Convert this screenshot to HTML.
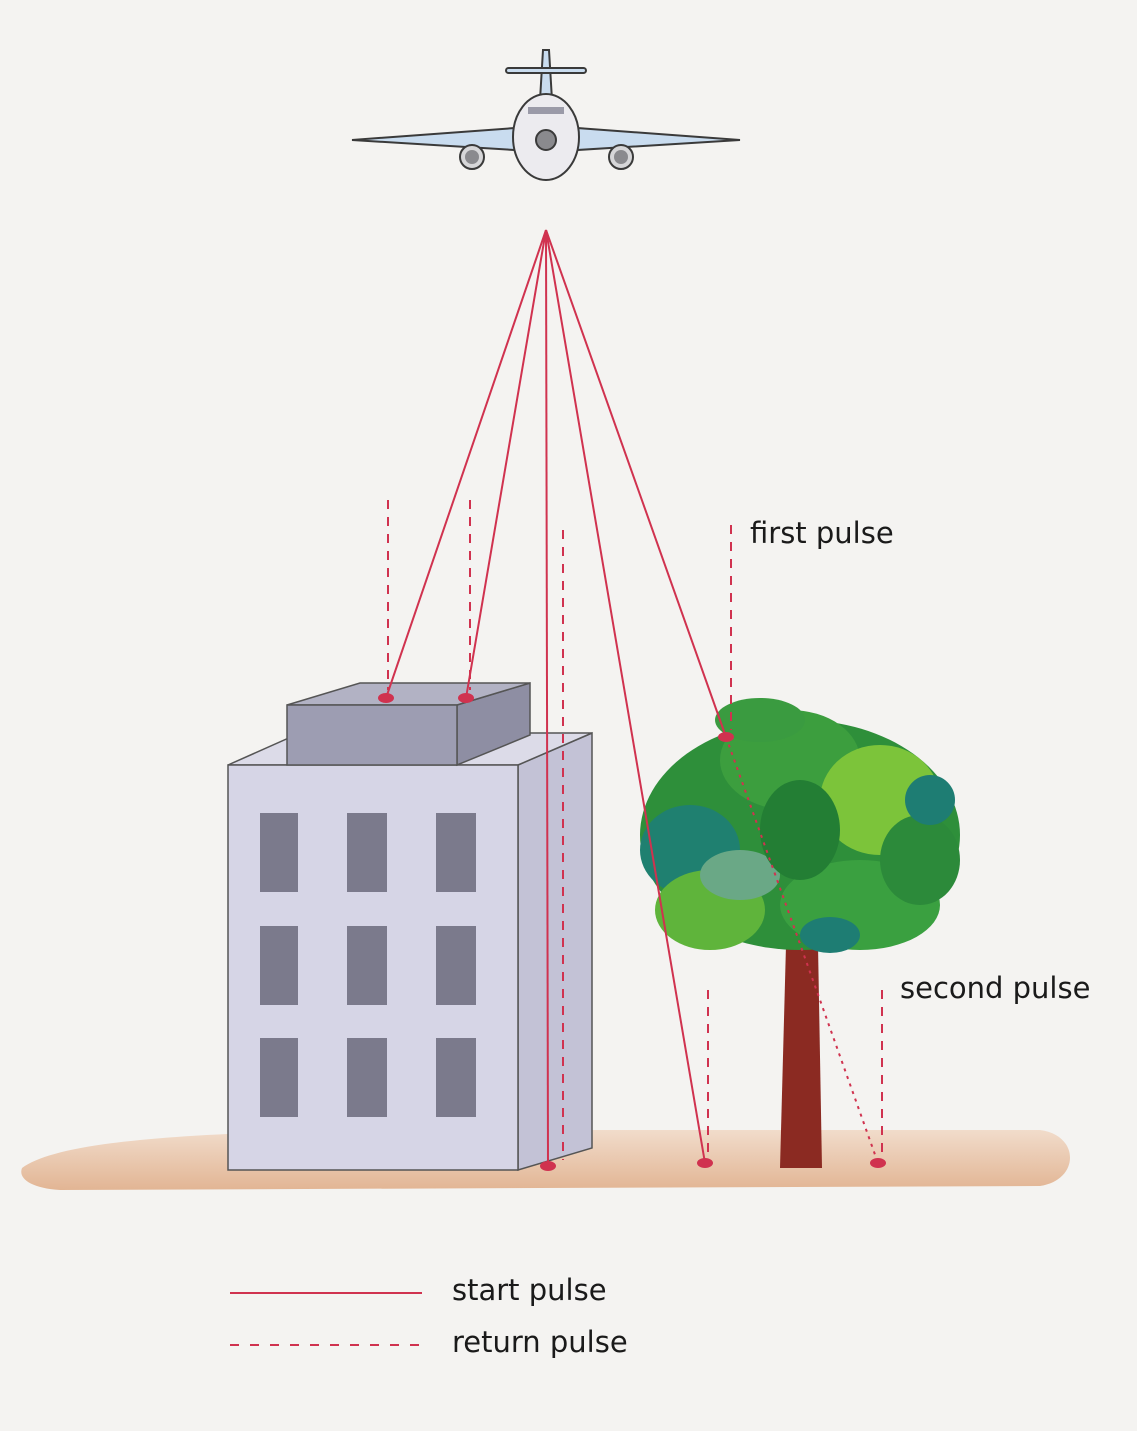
<!DOCTYPE html>
<html><head><style>
html,body{margin:0;padding:0;background:#f4f3f1;}
svg{display:block}
text{font-family:"DejaVu Sans","Liberation Sans",sans-serif;fill:#1a1a1a;font-size:29px}
</style></head><body>
<svg width="1137" height="1431" viewBox="0 0 1137 1431" xmlns="http://www.w3.org/2000/svg">
<defs>
<linearGradient id="g" x1="0" y1="0" x2="0" y2="1">
<stop offset="0" stop-color="#f1dccb"/><stop offset="1" stop-color="#e2b594"/>
</linearGradient>
</defs>
<rect width="1137" height="1431" fill="#f4f3f1"/>
<!-- ground -->
<path d="M22,1168 C60,1140 200,1128 520,1130 L1040,1130 C1080,1135 1080,1180 1040,1186 L60,1190 C30,1188 18,1178 22,1168Z" fill="url(#g)"/>
<!-- airplane -->
<g stroke="#3a3a3a" stroke-width="2">
<path d="M540,100 L543,50 L549,50 L552,100Z" fill="#c9dcef"/>
<rect x="506" y="68" width="80" height="5" rx="2.5" fill="#c9dcef"/>
<path d="M352,140 L515,128 L515,150 Z" fill="#c9dcef"/>
<path d="M740,140 L577,128 L577,150 Z" fill="#c9dcef"/>
<circle cx="472" cy="157" r="12" fill="#d6d6d8"/>
<circle cx="621" cy="157" r="12" fill="#d6d6d8"/>
<ellipse cx="546" cy="137" rx="33" ry="43" fill="#ecebef"/>
<circle cx="546" cy="140" r="10" fill="#8a8a8e"/>
</g>
<circle cx="472" cy="157" r="7" fill="#8a8a8e"/><circle cx="621" cy="157" r="7" fill="#8a8a8e"/>
<rect x="528" y="107" width="36" height="7" fill="#9a9aa8"/>
<!-- building -->
<g stroke="#555" stroke-width="1.5">
<polygon points="518,765 592,733 592,1148 518,1170" fill="#c3c2d6"/>
<polygon points="228,765 300,733 592,733 518,765" fill="#dcdbe8"/>
<rect x="228" y="765" width="290" height="405" fill="#d6d5e6"/>
<polygon points="457,705 530,683 530,735 457,765" fill="#8e8ea3"/>
<polygon points="287,705 360,683 530,683 457,705" fill="#b2b2c4"/>
<rect x="287" y="705" width="170" height="60" fill="#9d9db2"/>
</g>
<g fill="#7b7a8c">
<rect x="260" y="813" width="38" height="79"/><rect x="347" y="813" width="40" height="79"/><rect x="436" y="813" width="40" height="79"/>
<rect x="260" y="926" width="38" height="79"/><rect x="347" y="926" width="40" height="79"/><rect x="436" y="926" width="40" height="79"/>
<rect x="260" y="1038" width="38" height="79"/><rect x="347" y="1038" width="40" height="79"/><rect x="436" y="1038" width="40" height="79"/>
</g>
<!-- tree -->
<path d="M786,945 L818,945 L822,1168 L780,1168Z" fill="#8b2a22"/>
<g>
<ellipse cx="800" cy="835" rx="160" ry="115" fill="#2e8f3a"/>
<ellipse cx="690" cy="850" rx="50" ry="45" fill="#1f8070"/>
<ellipse cx="790" cy="760" rx="70" ry="50" fill="#3c9e3e"/>
<ellipse cx="880" cy="800" rx="60" ry="55" fill="#7cc43a"/>
<ellipse cx="710" cy="910" rx="55" ry="40" fill="#5fb43b"/>
<ellipse cx="860" cy="905" rx="80" ry="45" fill="#3aa040"/>
<ellipse cx="740" cy="875" rx="40" ry="25" fill="#6aa886"/>
<ellipse cx="800" cy="830" rx="40" ry="50" fill="#237e34"/>
<ellipse cx="920" cy="860" rx="40" ry="45" fill="#2c8a3a"/>
<ellipse cx="930" cy="800" rx="25" ry="25" fill="#1e7d73"/>
<ellipse cx="830" cy="935" rx="30" ry="18" fill="#1e7d73"/>
<ellipse cx="760" cy="720" rx="45" ry="22" fill="#3a9b40"/>
</g>
<!-- start pulses -->
<g stroke="#d0324f" stroke-width="2" fill="none">
<line x1="546" y1="230" x2="386" y2="698"/>
<line x1="546" y1="230" x2="466" y2="698"/>
<line x1="546" y1="230" x2="548" y2="1165"/>
<line x1="546" y1="230" x2="705" y2="1163"/>
<line x1="546" y1="230" x2="726" y2="737"/>
</g>
<!-- return pulses -->
<g stroke="#d0324f" stroke-width="2" fill="none" stroke-dasharray="9,8">
<line x1="388" y1="500" x2="388" y2="690"/>
<line x1="470" y1="500" x2="470" y2="690"/>
<line x1="563" y1="530" x2="563" y2="1160"/>
<line x1="731" y1="525" x2="731" y2="730"/>
<line x1="708" y1="990" x2="708" y2="1155"/>
<line x1="882" y1="990" x2="882" y2="1155"/>
</g>
<path d="M726,737 L820,1000 L878,1163" stroke="#d0324f" stroke-width="2" fill="none" stroke-dasharray="3,5"/>
<g fill="#d0324f">
<ellipse cx="386" cy="698" rx="8" ry="5"/><ellipse cx="466" cy="698" rx="8" ry="5"/>
<ellipse cx="726" cy="737" rx="8" ry="5"/><ellipse cx="548" cy="1166" rx="8" ry="5"/>
<ellipse cx="705" cy="1163" rx="8" ry="5"/><ellipse cx="878" cy="1163" rx="8" ry="5"/>
</g>
<text x="750" y="543">first pulse</text>
<text x="900" y="998">second pulse</text>
<line x1="230" y1="1293" x2="422" y2="1293" stroke="#d0324f" stroke-width="2"/>
<line x1="230" y1="1345" x2="422" y2="1345" stroke="#d0324f" stroke-width="2" stroke-dasharray="9,11"/>
<text x="452" y="1300">start pulse</text>
<text x="452" y="1352">return pulse</text>
</svg>
</body></html>
